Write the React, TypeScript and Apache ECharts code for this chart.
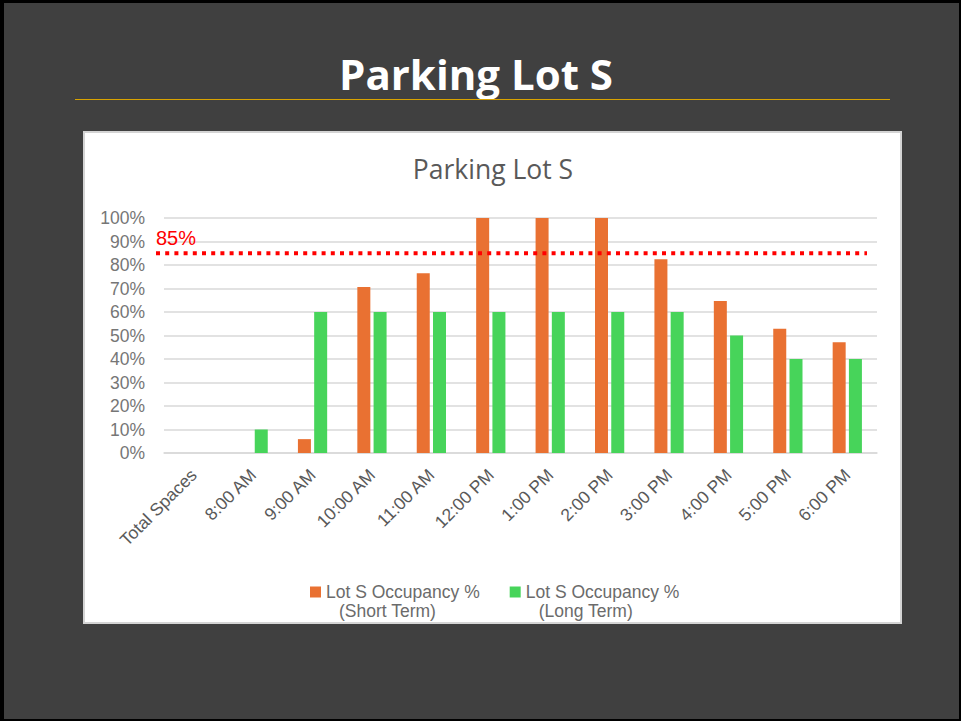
import React, { useEffect, useRef } from "react";
import * as echarts from "echarts";

const slideTitle = "Parking Lot S";
const chartTitle = "Parking Lot S";
const categories = [
  "Total Spaces",
  "8:00 AM",
  "9:00 AM",
  "10:00 AM",
  "11:00 AM",
  "12:00 PM",
  "1:00 PM",
  "2:00 PM",
  "3:00 PM",
  "4:00 PM",
  "5:00 PM",
  "6:00 PM",
];
const seriesNames = ["Lot S Occupancy % (Short Term)", "Lot S Occupancy % (Long Term)"];
const shortTerm = [null, 0, 5.9, 70.6, 76.5, 100, 100, 100, 82.4, 64.7, 52.9, 47.1];
const longTerm = [null, 10, 60, 60, 60, 60, 60, 60, 60, 50, 40, 40];
const yMin = 0;
const yMax = 100;
const yInterval = 10;
const threshold = 85;

const ORANGE = "#E97132";
const GREEN = "#47D45A";

export default function App() {
  const ref = useRef<HTMLDivElement>(null);

  useEffect(() => {
    if (!ref.current) return;
    const chart = echarts.init(ref.current, null, { renderer: "svg" });
    const option: any = {
      animation: false,
      backgroundColor: "transparent",
      grid: { left: 164, right: 84, top: 218, bottom: 268, containLabel: false },
      legend: {
        data: seriesNames,
        left: 310,
        top: 583,
        padding: 0,
        itemWidth: 11,
        itemHeight: 11,
        itemGap: 30,
        icon: "rect",
        formatter: (name: string) => {
          const i = name.indexOf(" (");
          return `{a|${name.slice(0, i)}}\n{b|${name.slice(i + 1)}}`;
        },
        textStyle: {
          padding: [19, 0, 0, 0],
          rich: {
            a: { fontSize: 17.5, fontFamily: "Liberation Sans", color: "#6b6b6b", lineHeight: 19 },
            b: {
              fontSize: 17.5,
              fontFamily: "Liberation Sans",
              color: "#6b6b6b",
              lineHeight: 19,
              padding: [0, 0, 0, 13],
            },
          },
        },
      },
      xAxis: {
        type: "category",
        data: categories,
        axisTick: { show: false },
        axisLine: { lineStyle: { color: "#d9d9d9", width: 1.5 } },
        axisLabel: {
          rotate: 45,
          interval: 0,
          margin: 19,
          color: "#595959",
          fontSize: 17.5,
          fontFamily: "Liberation Sans",
        },
      },
      yAxis: {
        type: "value",
        min: yMin,
        max: yMax,
        interval: yInterval,
        axisLine: { show: false },
        axisTick: { show: false },
        splitLine: { lineStyle: { color: "#d9d9d9", width: 1.5 } },
        axisLabel: {
          formatter: "{value}%",
          margin: 19,
          color: "#767676",
          fontSize: 17.5,
          fontFamily: "Liberation Sans",
        },
      },
      series: [
        {
          name: seriesNames[0],
          type: "bar",
          data: shortTerm,
          barWidth: 13,
          barGap: "25%",
          itemStyle: { color: ORANGE },
        },
        {
          name: seriesNames[1],
          type: "bar",
          data: longTerm,
          barWidth: 13,
          barGap: "25%",
          itemStyle: { color: GREEN },
        },
      ],
    };
    chart.setOption(option);
    const yT = chart.convertToPixel({ yAxisIndex: 0 }, threshold) as number;
    chart.setOption({
      graphic: [
        {
          type: "text",
          x: 476,
          y: 73,
          style: {
            text: slideTitle,
            fill: "#ffffff",
            fontSize: 42,
            fontWeight: "bold",
            fontFamily: "Open Sans",
            align: "center",
            verticalAlign: "middle",
          },
        },
        {
          type: "text",
          x: 493,
          y: 169,
          style: {
            text: chartTitle,
            fill: "#595959",
            fontSize: 26.5,
            fontFamily: "Open Sans",
            align: "center",
            verticalAlign: "middle",
          },
        },
        {
          type: "line",
          shape: { x1: 75, y1: 99.5, x2: 890, y2: 99.5 },
          style: { stroke: "#D9A300", lineWidth: 1.2 },
        },
        {
          type: "line",
          z: 10,
          shape: { x1: 156, y1: yT, x2: 867, y2: yT },
          style: { stroke: "#ff0000", lineWidth: 4, lineDash: [4, 5.2] },
        },
        {
          type: "text",
          z: 10,
          x: 156,
          y: yT - 15,
          style: {
            text: threshold + "%",
            fill: "#ff0000",
            fontSize: 20,
            fontFamily: "Liberation Sans",
            align: "left",
            verticalAlign: "middle",
          },
        },
      ],
    });
    return () => chart.dispose();
  }, []);

  return (
    <div style={{ position: "absolute", left: 0, top: 0, width: 961, height: 721 }}>
      <div
        style={{
          position: "absolute",
          left: 0,
          top: 0,
          width: 961,
          height: 721,
          boxSizing: "border-box",
          background: "#404040",
          borderTop: "3px solid #000",
          borderLeft: "4px solid #000",
          borderRight: "2px solid #000",
          borderBottom: "2px solid #000",
        }}
      />
      <div
        style={{
          position: "absolute",
          left: 83,
          top: 131,
          width: 819,
          height: 493,
          boxSizing: "border-box",
          background: "#ffffff",
          border: "2px solid #d4d4d4",
        }}
      />
      <div ref={ref} style={{ position: "absolute", left: 0, top: 0, width: 961, height: 721 }} />
    </div>
  );
}
